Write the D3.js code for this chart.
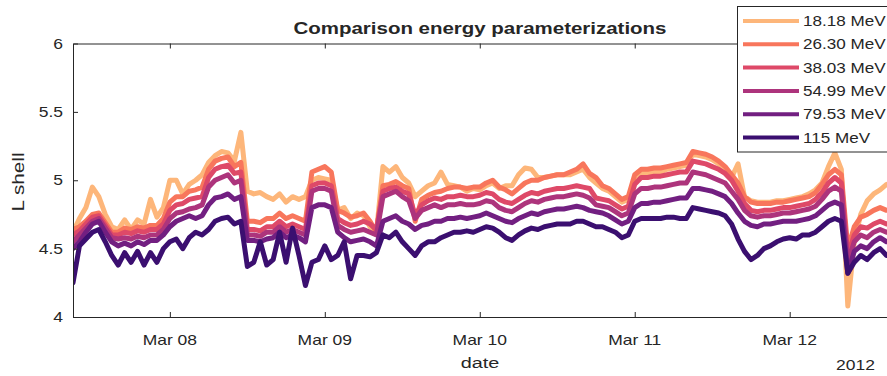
<!DOCTYPE html>
<html>
<head>
<meta charset="utf-8">
<script src="https://cdn.jsdelivr.net/npm/d3@7"></script>
<style>
  html, body { margin: 0; padding: 0; background: #fff; }
  svg { display: block; }
  text { font-family: "Liberation Sans", Arial, Helvetica, sans-serif; fill: #262626; }
</style>
</head>
<body>
<svg id="chart" width="887" height="376"></svg>
<script>
// Hourly L-shell samples starting 2012-03-07 09:00 UTC
const sampleStart = Date.UTC(2012, 2, 7, 9);

const energyLabels = ["18.18 MeV", "26.30 MeV", "38.03 MeV", "54.99 MeV", "79.53 MeV", "115 MeV"];

const lshell18 = [
  4.62,4.72,4.80,4.95,4.88,4.75,4.66,4.64,4.71,4.64,4.71,4.68,4.86,4.73,4.80,
  5.00,5.00,4.90,4.97,5.00,5.04,5.13,5.18,5.21,5.20,5.14,5.35,
  4.92,4.90,4.91,4.88,4.86,4.90,4.84,4.88,4.86,4.88,5.00,5.02,
  5.01,5.00,4.78,4.80,4.72,4.76,4.74,4.66,4.62,5.10,5.06,5.10,
  5.02,4.98,4.88,4.92,4.96,4.98,5.06,4.97,4.96,4.95,4.92,4.94,
  4.93,4.96,4.98,4.94,4.96,4.96,5.04,5.09,5.08,5.02,5.02,5.03,
  5.04,5.04,5.04,5.06,5.08,5.02,4.98,4.94,4.92,4.88,4.84,4.86,
  5.00,5.05,5.05,5.06,5.06,5.08,5.09,5.10,5.11,5.19,5.18,5.17,
  5.15,5.12,5.08,5.02,5.12,4.88,4.85,4.84,4.84,4.84,4.85,4.85,
  4.86,4.87,4.88,4.90,4.93,4.98,5.10,5.20,5.08,4.08,4.55,4.75,
  4.85,4.90,4.93,4.97,4.98
];

const lshell26 = [
  4.64,4.66,4.70,4.75,4.76,4.69,4.62,4.62,4.65,4.64,4.66,4.65,4.67,4.67,4.72,
  4.84,4.88,4.88,4.92,4.93,4.95,5.08,5.14,5.16,5.17,5.10,5.13,
  4.70,4.70,4.69,4.72,4.72,4.76,4.72,4.74,4.72,4.70,5.06,5.08,
  5.10,5.06,4.78,4.76,4.73,4.74,4.76,4.70,4.62,4.96,4.97,4.99,
  4.96,4.94,4.70,4.86,4.89,4.91,4.92,4.94,4.95,4.95,4.94,4.95,
  4.95,4.98,5.00,4.95,4.93,4.90,4.94,4.98,5.00,5.00,5.02,5.03,
  5.04,5.04,5.06,5.08,5.12,5.05,5.02,4.96,4.94,4.90,4.86,4.88,
  5.04,5.08,5.08,5.09,5.09,5.10,5.11,5.12,5.13,5.21,5.20,5.19,
  5.17,5.14,5.10,5.04,4.98,4.88,4.84,4.83,4.83,4.83,4.84,4.84,
  4.85,4.86,4.87,4.88,4.91,4.97,5.04,5.08,5.04,4.50,4.66,4.73,
  4.75,4.78,4.80,4.78,4.79
];

const lshell38 = [
  4.60,4.63,4.68,4.73,4.74,4.67,4.60,4.60,4.62,4.61,4.63,4.62,4.64,4.64,4.68,
  4.78,4.82,4.83,4.86,4.87,4.88,5.02,5.08,5.10,5.11,5.05,5.06,
  4.64,4.64,4.63,4.66,4.66,4.70,4.66,4.68,4.66,4.64,4.96,4.98,
  4.98,4.96,4.72,4.69,4.67,4.68,4.70,4.68,4.64,4.92,4.94,4.95,
  4.92,4.90,4.74,4.82,4.85,4.87,4.86,4.88,4.88,4.89,4.88,4.88,
  4.89,4.91,4.90,4.86,4.84,4.83,4.86,4.89,4.91,4.90,4.92,4.93,
  4.94,4.94,4.95,4.96,4.95,4.94,4.87,4.86,4.85,4.82,4.79,4.81,
  4.97,5.02,5.02,5.03,5.03,5.04,5.05,5.06,5.06,5.14,5.13,5.12,
  5.10,5.08,5.05,5.00,4.92,4.83,4.78,4.77,4.78,4.78,4.79,4.80,
  4.80,4.81,4.82,4.83,4.86,4.91,4.98,5.02,4.98,4.45,4.60,4.66,
  4.65,4.68,4.70,4.68,4.69
];

const lshell55 = [
  4.55,4.60,4.65,4.70,4.72,4.65,4.58,4.57,4.58,4.57,4.59,4.58,4.60,4.60,4.64,
  4.72,4.76,4.77,4.79,4.80,4.82,4.95,5.00,5.02,5.04,4.98,5.00,
  4.60,4.60,4.59,4.62,4.62,4.66,4.62,4.64,4.62,4.60,4.92,4.94,
  4.94,4.92,4.67,4.64,4.62,4.63,4.64,4.62,4.60,4.88,4.90,4.92,
  4.88,4.85,4.72,4.78,4.80,4.82,4.80,4.82,4.82,4.83,4.82,4.82,
  4.83,4.85,4.84,4.80,4.78,4.77,4.80,4.83,4.85,4.84,4.86,4.87,
  4.88,4.88,4.89,4.90,4.89,4.87,4.82,4.81,4.80,4.77,4.74,4.76,
  4.90,4.94,4.94,4.95,4.95,4.96,4.97,4.98,4.98,5.06,5.05,5.04,
  5.02,5.00,4.98,4.92,4.86,4.78,4.74,4.73,4.74,4.74,4.75,4.76,
  4.76,4.77,4.78,4.79,4.81,4.86,4.92,4.95,4.92,4.40,4.55,4.60,
  4.58,4.62,4.64,4.62,4.63
];

const lshell80 = [
  4.50,4.55,4.62,4.68,4.70,4.62,4.55,4.52,4.54,4.52,4.55,4.53,4.56,4.56,4.60,
  4.66,4.70,4.72,4.74,4.72,4.74,4.82,4.87,4.88,4.90,4.86,4.88,
  4.56,4.56,4.55,4.57,4.58,4.62,4.58,4.60,4.58,4.55,4.80,4.82,
  4.82,4.80,4.62,4.58,4.55,4.56,4.57,4.55,4.52,4.70,4.72,4.74,
  4.70,4.68,4.64,4.67,4.68,4.70,4.70,4.72,4.72,4.73,4.72,4.73,
  4.74,4.76,4.74,4.72,4.70,4.69,4.72,4.74,4.76,4.75,4.77,4.78,
  4.79,4.79,4.80,4.81,4.80,4.78,4.77,4.76,4.74,4.71,4.68,4.70,
  4.80,4.83,4.83,4.84,4.84,4.85,4.86,4.87,4.87,4.94,4.94,4.93,
  4.92,4.90,4.88,4.83,4.76,4.70,4.67,4.66,4.68,4.68,4.69,4.70,
  4.70,4.70,4.71,4.72,4.74,4.78,4.82,4.84,4.82,4.32,4.48,4.52,
  4.50,4.55,4.58,4.55,4.56
];

const lshell115 = [
  4.25,4.52,4.57,4.62,4.64,4.55,4.45,4.38,4.47,4.40,4.48,4.38,4.47,4.40,4.50,
  4.55,4.57,4.50,4.58,4.62,4.60,4.64,4.70,4.72,4.73,4.68,4.70,
  4.37,4.40,4.55,4.38,4.42,4.62,4.40,4.65,4.45,4.23,4.40,4.42,
  4.52,4.42,4.45,4.55,4.28,4.45,4.45,4.44,4.47,4.60,4.58,4.62,
  4.55,4.50,4.45,4.52,4.55,4.55,4.58,4.60,4.62,4.62,4.63,4.62,
  4.64,4.66,4.65,4.62,4.58,4.56,4.60,4.63,4.65,4.64,4.66,4.67,
  4.68,4.68,4.68,4.70,4.70,4.68,4.66,4.66,4.64,4.62,4.58,4.60,
  4.70,4.72,4.72,4.72,4.72,4.73,4.73,4.72,4.72,4.80,4.79,4.78,
  4.77,4.76,4.74,4.68,4.57,4.48,4.42,4.45,4.50,4.52,4.55,4.57,
  4.58,4.57,4.60,4.60,4.62,4.66,4.70,4.72,4.70,4.32,4.40,4.45,
  4.42,4.47,4.50,4.45,4.46
];

const seriesValues = [lshell18, lshell26, lshell38, lshell55, lshell80, lshell115];
const seriesColors = ["#fdb67a", "#f8765c", "#de4968", "#ad347c", "#721f81", "#3b0f70"];

const yTicks = [4, 4.5, 5, 5.5, 6];

// ---- layout ----
const svg = d3.select("#chart");
const plot = { left: 73, right: 893, top: 43.5, bottom: 317 };
const axisColor = "#262626";

const times = lshell18.map((_, i) => new Date(sampleStart + i * 3600e3));

const x = d3.scaleUtc()
  .domain([times[0], times[times.length - 1]])
  .range([plot.left, plot.right]);
const y = d3.scaleLinear().domain([4, 6]).range([plot.bottom, plot.top]);

const dayTicks = d3.utcDay.range(d3.utcDay.ceil(x.domain()[0]), x.domain()[1]);
const dayFmt = d3.utcFormat("%b %d");

// horizontally widened text, matching the wide sans used in the figure
function label(str, px, py, opts) {
  const o = Object.assign({ size: 14, anchor: "middle", sx: 1.25, rotate: 0, weight: "normal" }, opts || {});
  return svg.append("text")
    .attr("transform", `translate(${px},${py}) rotate(${o.rotate}) scale(${o.sx},1)`)
    .attr("text-anchor", o.anchor)
    .style("font-size", o.size + "px")
    .style("font-weight", o.weight)
    .text(str);
}

// clip region for the data
svg.append("defs").append("clipPath").attr("id", "plotClip")
  .append("rect")
  .attr("x", plot.left).attr("y", plot.top)
  .attr("width", plot.right - plot.left).attr("height", plot.bottom - plot.top);

// ---- lines ----
const line = d3.line()
  .x((d, i) => x(times[i]))
  .y(d => y(d));

const lines = svg.append("g").attr("clip-path", "url(#plotClip)");
seriesValues.forEach((vals, k) => {
  lines.append("path")
    .datum(vals)
    .attr("d", line)
    .attr("fill", "none")
    .attr("stroke", seriesColors[k])
    .attr("stroke-width", 5)
    .attr("stroke-linejoin", "round")
    .attr("stroke-linecap", "round");
});

// ---- axes ----
function styleAxis(g) {
  g.selectAll("path.domain").attr("stroke", axisColor).attr("stroke-width", 1);
  g.selectAll(".tick line").attr("stroke", axisColor).attr("stroke-width", 1);
  g.selectAll(".tick text").remove();
}

svg.append("g")
  .attr("transform", `translate(0,${plot.bottom})`)
  .call(d3.axisBottom(x).tickValues(dayTicks).tickSizeInner(-5).tickSizeOuter(0).tickFormat(""))
  .call(styleAxis);

svg.append("g")
  .attr("transform", `translate(0,${plot.top})`)
  .call(d3.axisTop(x).tickValues(dayTicks).tickSizeInner(-5).tickSizeOuter(0).tickFormat(""))
  .call(styleAxis);

svg.append("g")
  .attr("transform", `translate(${plot.left},0)`)
  .call(d3.axisLeft(y).tickValues(yTicks).tickSizeInner(-5).tickSizeOuter(0).tickFormat(""))
  .call(styleAxis);

// tick labels
dayTicks.forEach(d => label(dayFmt(d), x(d), 345, { size: 14 }));
yTicks.forEach(v => label(String(v), 63, y(v) + 5, { size: 14, anchor: "end" }));

// axis titles
label("date", (plot.left + 887) / 2, 368, { size: 15.5, sx: 1.28 });
label("L shell", 24, 182, { size: 17, sx: 1.22, rotate: -90 });
label("2012", 875, 370, { size: 14, anchor: "end" });
label("Comparison energy parameterizations", (plot.left + 887) / 2, 34,
      { size: 16, sx: 1.28, weight: "bold" });

// ---- legend ----
const legend = svg.append("g");
legend.append("rect")
  .attr("x", 737.5).attr("y", 6.5)
  .attr("width", 170).attr("height", 145.5)
  .attr("fill", "#fff").attr("stroke", axisColor).attr("stroke-width", 1);

energyLabels.forEach((name, i) => {
  const ly = 21 + i * 23.3;
  legend.append("line")
    .attr("x1", 743).attr("x2", 799)
    .attr("y1", ly).attr("y2", ly)
    .attr("stroke", seriesColors[i]).attr("stroke-width", 4);
  label(name, 803, ly + 5, { size: 14, anchor: "start", sx: 1.22 });
});
</script>
</body>
</html>
